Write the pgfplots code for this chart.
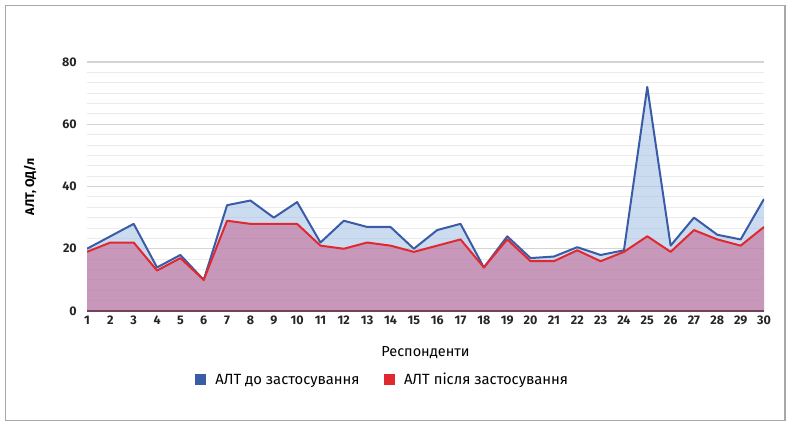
\documentclass[border=0pt]{standalone}
\usepackage{pgfplots}
\pgfplotsset{compat=1.18}
\usepackage{fontspec}
\setmainfont{Fira Sans}
\definecolor{blueline}{HTML}{3A5CA6}
\definecolor{redline}{HTML}{E0282E}
\definecolor{bluefill}{HTML}{A8C4E8}
\definecolor{redfill}{HTML}{C66B97}
\definecolor{framegray}{HTML}{A8A8A8}
\pgfplotstableread{
x before after
1 20 19
2 24 22
3 28 22
4 14 13
5 18 17
6 10 10
7 34 29
8 35.5 28
9 30 28
10 35 28
11 22 21
12 29 20
13 27 22
14 27 21
15 20 19
16 26 21
17 28 23
18 14 14
19 24 23
20 17 16
21 17.5 16
22 20.5 19.5
23 18 16
24 19.5 19
25 72 24
26 21 19
27 30 26
28 24.5 23
29 23 21
30 36 27
}\datatable
\begin{document}
\begin{tikzpicture}[x=1bp,y=1bp]
\useasboundingbox (0,0) rectangle (791,426);
\draw[framegray, line width=1.2bp] (5.5,5.5) rectangle (785,420.5);
\begin{axis}[
  at={(87bp,115bp)}, anchor=south west,
  scale only axis, width=677bp, height=249bp,
  xmin=1, xmax=30, ymin=0, ymax=80,
  axis line style={draw=none},
  xtick={1,...,30}, ytick={0,20,...,80},
  minor y tick num=5,
  ymajorgrids, yminorgrids,
  major grid style={draw=black!17, line width=1.1bp},
  minor grid style={draw=black!8, line width=0.8bp},
  tick style={draw=none},
  every tick label/.append style={font=\fontsize{12.5bp}{14bp}\selectfont\bfseries, text=black!85},
  /pgf/number format/assume math mode=true,
  xticklabel style={anchor=north, inner sep=0pt, yshift=-5bp},
  yticklabel style={anchor=east, inner sep=0pt, xshift=-10bp},
  ylabel={АЛТ, ОД/л},
  ylabel style={at={(axis description cs:-0.084,0.5)}, anchor=center, font=\fontsize{12.5bp}{14bp}\selectfont\bfseries},
  xlabel={Респонденти},
  xlabel style={at={(axis description cs:0.5,-0.167)}, anchor=center, font=\fontsize{14.5bp}{16bp}\selectfont},
  legend style={at={(axis description cs:0.4365,-0.277)}, anchor=center, draw=none, fill=none,
    legend columns=2, font=\fontsize{14.8bp}{16bp}\selectfont,
    /tikz/every even column/.append style={column sep=22bp},
    /tikz/every odd column/.append style={column sep=0bp}},
  legend image code/.code={\fill[#1] (0bp,-4.5bp) rectangle (10bp,5.5bp);},
]
\addplot[draw=none, fill=bluefill, fill opacity=0.6, forget plot] table[x=x,y=before]{\datatable} \closedcycle;
\addplot[draw=none, fill=redfill, fill opacity=0.6, forget plot] table[x=x,y=after]{\datatable} \closedcycle;
\addplot[blueline, line width=2bp, line join=round, forget plot] table[x=x,y=before]{\datatable};
\addplot[redline, line width=2bp, line join=round, forget plot] table[x=x,y=after]{\datatable};
\draw[color=redfill!60!black, line width=1.5bp] (axis cs:1,0) -- (axis cs:30,0);
\addlegendimage{blueline}
\addlegendentry{\hspace{8bp}АЛТ до застосування}
\addlegendimage{redline}
\addlegendentry{\hspace{8bp}АЛТ після застосування}
\end{axis}
\end{tikzpicture}
\end{document}
